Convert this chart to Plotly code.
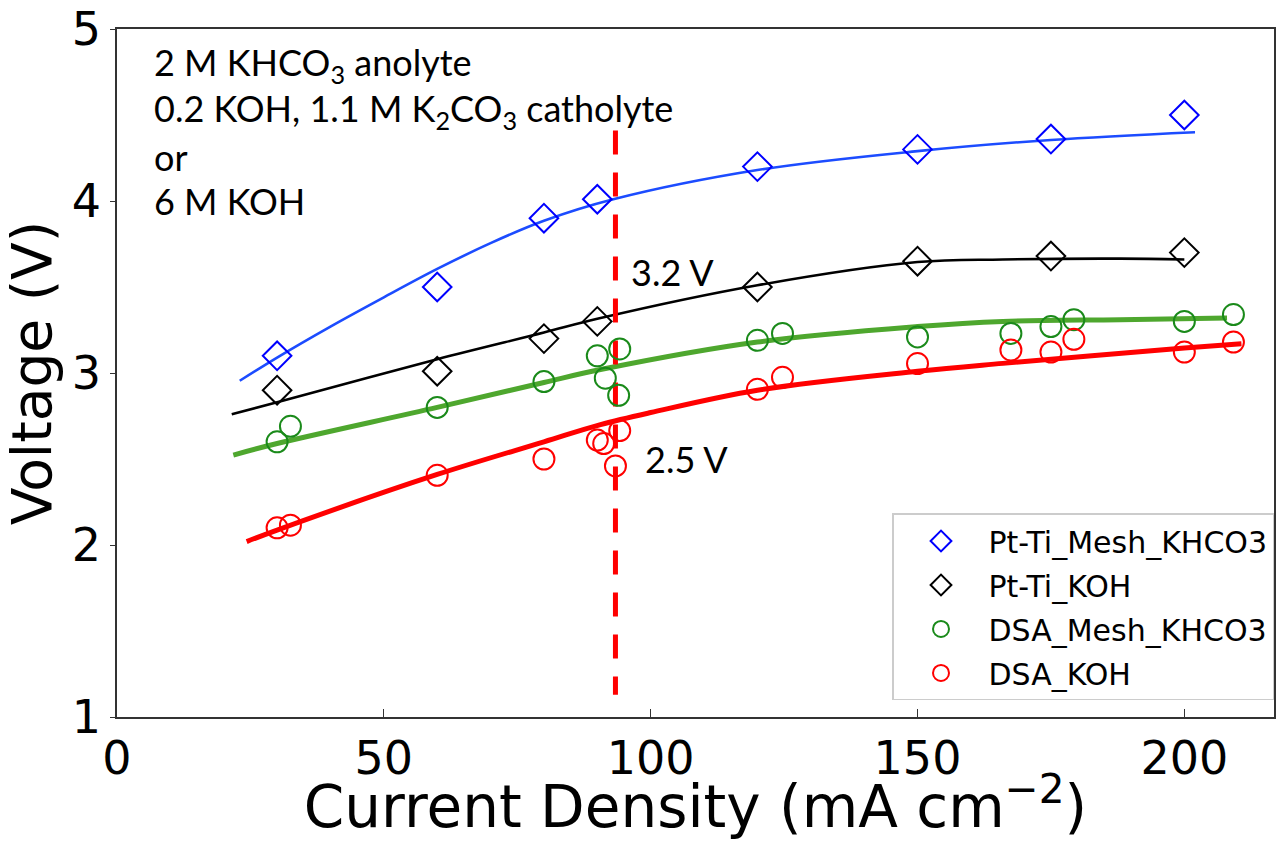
import plotly.graph_objects as go

# ---- measured data ----
blue_x = [30, 60, 80, 90, 120, 150, 175, 200]
blue_y = [3.10, 3.50, 3.90, 4.01, 4.20, 4.30, 4.36, 4.50]

black_x = [30, 60, 80, 90, 120, 150, 175, 200]
black_y = [2.90, 3.01, 3.20, 3.30, 3.50, 3.65, 3.68, 3.70]

green_x = [30, 32.5, 60, 80, 90, 91.5, 94, 94.2, 120, 124.7, 150, 167.5, 175, 179.3, 200, 209.2]
green_y = [2.60, 2.69, 2.80, 2.95, 3.10, 2.97, 2.87, 3.14, 3.19, 3.23, 3.21, 3.23, 3.27, 3.31, 3.30, 3.34]

red_x = [30, 32.5, 60, 80, 90, 91.2, 93.4, 94.2, 120, 124.7, 150, 167.5, 175, 179.3, 200, 209.2]
red_y = [2.10, 2.115, 2.405, 2.50, 2.61, 2.59, 2.46, 2.665, 2.905, 2.975, 3.055, 3.134, 3.122, 3.196, 3.122, 3.18]

# fitted curves, points
blue_fit_x = [23, 30, 40, 50, 60, 70, 80, 93, 120, 150, 175, 202]
blue_fit_y = [2.955, 3.09, 3.27, 3.44, 3.605, 3.755, 3.885, 4.01, 4.18, 4.29, 4.355, 4.40]

black_fit_x = [21.5, 30, 60, 80, 90, 120, 150, 166, 188, 200]
black_fit_y = [2.76, 2.83, 3.08, 3.235, 3.315, 3.51, 3.645, 3.66, 3.665, 3.66]

green_fit_x = [21.8, 30, 60, 80, 90.6, 120, 150, 166, 188, 208]
green_fit_y = [2.523, 2.59, 2.80, 2.945, 3.02, 3.18, 3.27, 3.30, 3.31, 3.32]

red_fit_x = [24.3, 30, 60, 80, 90.6, 100, 120, 150, 166, 200, 210.7]
red_fit_y = [2.02, 2.087, 2.41, 2.60, 2.70, 2.77, 2.90, 3.01, 3.056, 3.145, 3.17]

cutoff_x = [93.4, 93.4]
cutoff_y = [4.41, 1.13]

x_ticks = [0, 50, 100, 150, 200]
y_ticks = [1, 2, 3, 4, 5]

note_lines = ["2 M KHCO<sub>3</sub> anolyte",
              "0.2 KOH, 1.1 M K<sub>2</sub>CO<sub>3</sub> catholyte",
              "or",
              "6 M KOH"]
note_y = [4.795, 4.525, 4.255, 4.0]

fig = go.Figure()

# fit lines
for fx, fy, col, w in [(blue_fit_x, blue_fit_y, "#1c4cff", 2.6),
                       (black_fit_x, black_fit_y, "#000000", 2.6),
                       (green_fit_x, green_fit_y, "#4ea72e", 5),
                       (red_fit_x, red_fit_y, "#ff0000", 5)]:
    fig.add_trace(go.Scatter(x=fx, y=fy, mode="lines", line=dict(color=col, width=w, shape="spline"),
                             showlegend=False, hoverinfo="skip"))

# dashed vertical line
fig.add_trace(go.Scatter(x=cutoff_x, y=cutoff_y, mode="lines",
                         line=dict(color="#ff0000", width=5, dash="24px,18px"),
                         showlegend=False, hoverinfo="skip"))

series = [("Pt-Ti_Mesh_KHCO3", blue_x, blue_y, "diamond-open", "#0000ff", 22),
          ("Pt-Ti_KOH", black_x, black_y, "diamond-open", "#000000", 22),
          ("DSA_Mesh_KHCO3", green_x, green_y, "circle-open", "#1a8a1a", 21),
          ("DSA_KOH", red_x, red_y, "circle-open", "#ff0000", 21)]
for i, (name, sx, sy, sym, col, sz) in enumerate(series):
    fig.add_trace(go.Scatter(x=sx, y=sy, mode="markers", name=name, legendgroup=f"g{i}",
                             marker=dict(symbol=sym, size=sz, color=col, line=dict(color=col, width=2))))

ann_font = dict(family="Lato, Open Sans, sans-serif", size=36, color="black")
for txt, yy in zip(note_lines, note_y):
    fig.add_annotation(x=6.5, y=yy, xref="x", yref="y", text=txt, showarrow=False,
                       xanchor="left", yanchor="middle", font=ann_font)
fig.add_annotation(x=96.0, y=3.59, xref="x", yref="y", text="3.2 V", showarrow=False,
                   xanchor="left", yanchor="middle", font=ann_font)
fig.add_annotation(x=98.5, y=2.50, xref="x", yref="y", text="2.5 V", showarrow=False,
                   xanchor="left", yanchor="middle", font=ann_font)

axis_font = dict(family="DejaVu Sans", size=46, color="black")
fig.update_layout(
    width=1277, height=841, autosize=False,
    margin=dict(l=117, r=3, t=29, b=124),
    plot_bgcolor="white", paper_bgcolor="white",
    xaxis=dict(range=[0, 216.8], tickvals=x_ticks, ticks="inside", ticklen=8, tickwidth=1.2,
               tickcolor="#333", showline=True, linecolor="#333", linewidth=1.5, mirror=True,
               showgrid=False, zeroline=False, tickfont=axis_font, automargin=False,
               title=dict(text="Current Density (mA cm<sup>\u22122</sup>)",
                          font=dict(family="DejaVu Sans", size=58, color="black"), standoff=16)),
    yaxis=dict(range=[1, 5], tickvals=y_ticks, ticks="outside", ticklen=5, tickwidth=1.2,
               tickcolor="#333", showline=True, linecolor="#333", linewidth=1.5, mirror=True,
               showgrid=False, zeroline=False, tickfont=axis_font, automargin=False,
               title=dict(text="Voltage (V)",
                          font=dict(family="DejaVu Sans", size=55, color="black"), standoff=8)),
    legend=dict(x=1.0, y=0.024, xanchor="right", yanchor="bottom",
                font=dict(family="DejaVu Sans", size=30, color="black"),
                bgcolor="white", bordercolor="#cccccc", borderwidth=1.5,
                tracegroupgap=2, itemwidth=85),
    showlegend=True,
)

fig.write_html("out.html")
